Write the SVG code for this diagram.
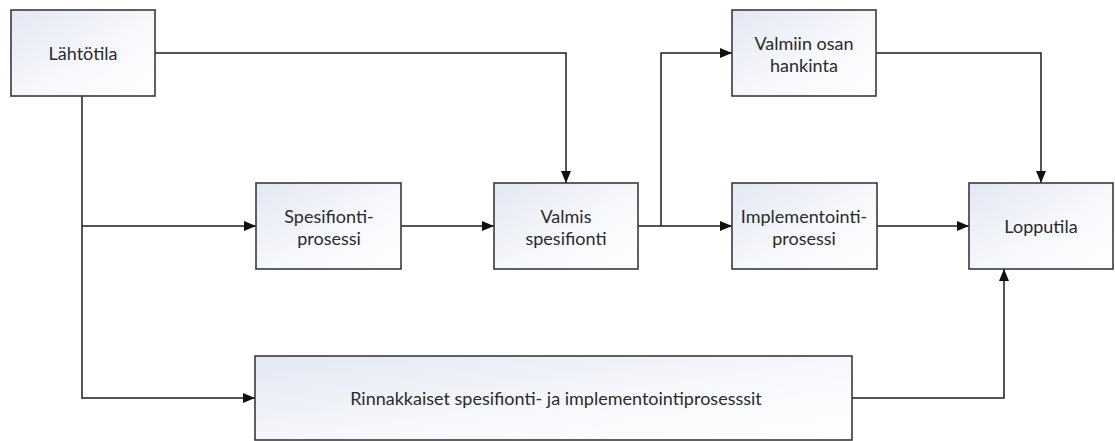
<svg xmlns="http://www.w3.org/2000/svg" width="1115" height="441" viewBox="0 0 1115 441">
  <style>
    .box { fill: url(#boxFill); stroke: #3a3a3a; stroke-width: 1.6; }
    .lbl { font-family: Lato, "Open Sans", "Liberation Sans", sans-serif; font-size: 18px; fill: #2b2b2b; text-anchor: middle; }
    .wire { fill: none; stroke: #1e1e1e; stroke-width: 1.5; }
  </style>
  <defs>
    <linearGradient id="boxFill" x1="0" y1="0" x2="1" y2="1">
      <stop offset="0" stop-color="#e3e8f3"/>
      <stop offset="0.55" stop-color="#f7f8fc"/>
      <stop offset="1" stop-color="#ffffff"/>
    </linearGradient>
    <marker id="arrow" markerUnits="userSpaceOnUse" markerWidth="12" markerHeight="10" refX="12" refY="5" orient="auto">
      <path d="M0,0 L12,5 L0,10 Z" fill="#111"/>
    </marker>
  </defs>

  <rect width="1115" height="441" fill="#ffffff"/>

  <!-- connectors -->
  <g id="connectors">
    <polyline class="wire" points="155,53 566,53 566,183" marker-end="url(#arrow)"/>
    <polyline class="wire" points="82,96 82,398 255,398" marker-end="url(#arrow)"/>
    <polyline class="wire" points="82,226 256,226" marker-end="url(#arrow)"/>
    <polyline class="wire" points="401,226 494,226" marker-end="url(#arrow)"/>
    <polyline class="wire" points="638,226 732,226" marker-end="url(#arrow)"/>
    <polyline class="wire" points="661,226 661,53 732,53" marker-end="url(#arrow)"/>
    <polyline class="wire" points="876,53 1041,53 1041,183" marker-end="url(#arrow)"/>
    <polyline class="wire" points="877,226 969,226" marker-end="url(#arrow)"/>
    <polyline class="wire" points="852,398 1004,398 1004,269" marker-end="url(#arrow)"/>
  </g>

  <!-- nodes -->
  <g id="lahtotila">
    <rect class="box" x="11" y="10" width="144" height="86"/>
    <text class="lbl" x="83" y="60">Lähtötila</text>
  </g>
  <g id="spesifiointiprosessi">
    <rect class="box" x="256" y="183" width="145" height="86"/>
    <text class="lbl" x="329" y="223">Spesifionti-</text>
    <text class="lbl" x="329" y="245">prosessi</text>
  </g>
  <g id="valmis-spesifiointi">
    <rect class="box" x="494" y="183" width="144" height="86"/>
    <text class="lbl" x="566" y="223">Valmis</text>
    <text class="lbl" x="566" y="245">spesifionti</text>
  </g>
  <g id="valmiin-osan-hankinta">
    <rect class="box" x="732" y="10" width="144" height="86"/>
    <text class="lbl" x="804" y="50">Valmiin osan</text>
    <text class="lbl" x="804" y="72">hankinta</text>
  </g>
  <g id="implementointiprosessi">
    <rect class="box" x="732" y="183" width="145" height="86"/>
    <text class="lbl" x="804" y="223">Implementointi-</text>
    <text class="lbl" x="804" y="245">prosessi</text>
  </g>
  <g id="lopputila">
    <rect class="box" x="969" y="183" width="144" height="86"/>
    <text class="lbl" x="1041" y="233">Lopputila</text>
  </g>
  <g id="rinnakkaiset">
    <rect class="box" x="255" y="356" width="597" height="84"/>
    <text class="lbl" x="556" y="405">Rinnakkaiset spesifionti- ja implementointiprosesssit</text>
  </g>
</svg>
